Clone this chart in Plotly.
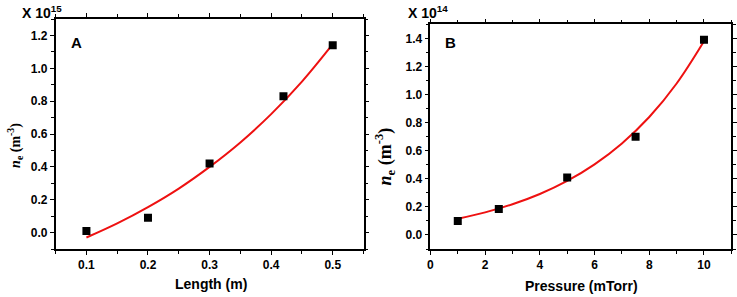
import plotly.graph_objects as go

# Panel A data
length_m = [0.1, 0.2, 0.3, 0.42, 0.5]
ne_length = [0.01, 0.09, 0.42, 0.83, 1.14]
fit_a_x = [0.1, 0.15, 0.2, 0.25, 0.3, 0.35, 0.4, 0.45, 0.5]
fit_a_y = [-0.03, 0.056, 0.155, 0.268, 0.40, 0.549, 0.721, 0.919, 1.147]

# Panel B data
pressure = [1, 2.5, 5, 7.5, 10]
ne_pressure = [0.10, 0.185, 0.41, 0.70, 1.39]
fit_b_x = [1, 2, 3, 4, 5, 6, 7, 8, 9, 10]
fit_b_y = [0.115, 0.161, 0.219, 0.292, 0.385, 0.503, 0.652, 0.840, 1.079, 1.380]

tick_a_x = [0.1, 0.2, 0.3, 0.4, 0.5]
tick_a_y = [0.0, 0.2, 0.4, 0.6, 0.8, 1.0, 1.2]
tick_b_x = [0, 2, 4, 6, 8, 10]
tick_b_y = [0.0, 0.2, 0.4, 0.6, 0.8, 1.0, 1.2, 1.4]

fig = go.Figure()
fig.add_trace(go.Scatter(x=fit_a_x, y=fit_a_y, mode="lines", line=dict(color="#ee1111", width=2, shape="spline"),
                         xaxis="x", yaxis="y", showlegend=False))
fig.add_trace(go.Scatter(x=length_m, y=ne_length, mode="markers",
                         marker=dict(symbol="square", size=8, color="black"),
                         xaxis="x", yaxis="y", showlegend=False))
fig.add_trace(go.Scatter(x=fit_b_x, y=fit_b_y, mode="lines", line=dict(color="#ee1111", width=2, shape="spline"),
                         xaxis="x2", yaxis="y2", showlegend=False))
fig.add_trace(go.Scatter(x=pressure, y=ne_pressure, mode="markers",
                         marker=dict(symbol="square", size=8, color="black"),
                         xaxis="x2", yaxis="y2", showlegend=False))

tickfont = dict(family="Liberation Sans", size=12, color="black")
common = dict(showline=True, linecolor="black", linewidth=1.5, mirror="ticks", ticks="outside",
              ticklen=4, tickwidth=1.2, tickcolor="black", showgrid=False, zeroline=False,
              tickfont=tickfont)

fig.update_layout(
    width=737, height=297,
    margin=dict(l=0, r=0, t=0, b=0),
    paper_bgcolor="white", plot_bgcolor="white",
    xaxis=dict(domain=[0.0719, 0.4925], range=[0.05, 0.55], tickvals=tick_a_x,
               ticktext=["<b>%.1f</b>" % v for v in tick_a_x],
               minor=dict(dtick=0.05, tick0=0.05, ticks="outside", ticklen=3, tickcolor="black"),
               anchor="y", **common),
    yaxis=dict(domain=[0.1616, 0.936], range=[-0.1, 1.3], tickvals=tick_a_y,
               ticktext=["<b>%.1f</b>" % v for v in tick_a_y],
               minor=dict(dtick=0.1, tick0=0.1, ticks="outside", ticklen=3, tickcolor="black"),
               anchor="x", **common),
    xaxis2=dict(domain=[0.5839, 0.995], range=[0, 11], tickvals=tick_b_x,
                ticktext=["<b>%d</b>" % v for v in tick_b_x],
                minor=dict(dtick=1, tick0=1, ticks="outside", ticklen=3, tickcolor="black"),
                anchor="y2", **common),
    yaxis2=dict(domain=[0.1616, 0.918], range=[-0.1, 1.5], tickvals=tick_b_y,
                ticktext=["<b>%.1f</b>" % v for v in tick_b_y],
                minor=dict(dtick=0.1, tick0=0.1, ticks="outside", ticklen=3, tickcolor="black"),
                anchor="x2", **common),
)

ann = []
def add(text, x, y, size, family="Liberation Sans", angle=0, xanchor="center", yanchor="middle"):
    ann.append(dict(text=text, x=x, y=y, xref="paper", yref="paper", showarrow=False,
                    font=dict(family=family, size=size, color="black"), textangle=angle,
                    xanchor=xanchor, yanchor=yanchor))

add("<b>X 10<sup>15</sup></b>", 17 / 737, 1 - 12 / 297, 14, xanchor="left")
add("<b>X 10<sup>14</sup></b>", 406 / 737, 1 - 12 / 297, 14, xanchor="left")
add("<b>A</b>", 66 / 737, 1 - 42 / 297, 15, xanchor="left")
add("<b>B</b>", 443 / 737, 1 - 42 / 297, 15, xanchor="left")
add("<b>Length (m)</b>", 209 / 737, 1 - 284 / 297, 14)
add("<b>Pressure (mTorr)</b>", 582 / 737, 1 - 286 / 297, 14)
add("<b><i>n</i><sub>e</sub> (m<sup>-3</sup>)</b>", 12 / 737, 1 - 145 / 297, 14, family="Liberation Serif", angle=-90)
add("<b><i>n</i><sub>e</sub> (m<sup>-3</sup>)</b>", 384 / 737, 1 - 156 / 297, 18, family="Liberation Serif", angle=-90)
fig.update_layout(annotations=ann)

fig.write_html("out.html", config={"displayModeBar": False},
               post_script="document.body.style.margin='0';document.body.style.overflow='hidden';")
